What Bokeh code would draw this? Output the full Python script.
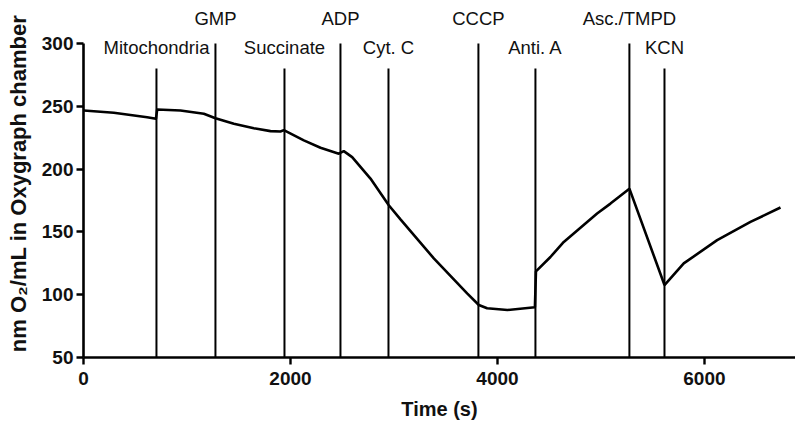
from bokeh.plotting import figure
from bokeh.models import Range1d, FixedTicker
from bokeh.core.properties import value
from bokeh.embed import file_html
from bokeh.resources import INLINE

# Oxygen trace (time in s, nm O2/mL)
time_s = [3, 293, 615, 700, 712, 937, 1163, 1275, 1453, 1646, 1807, 1903, 1936,
          2129, 2290, 2467, 2515, 2596, 2773, 2950, 3063, 3385, 3707, 3820, 3900,
          4096, 4362, 4372, 4512, 4641, 4963, 5092, 5275, 5614, 5800, 6123, 6445, 6735]
oxygen = [246.6, 244.8, 241.3, 240.0, 247.4, 246.6, 244.0, 240.5, 236.0, 232.5, 230.2, 229.9, 231.0,
          222.8, 217.0, 212.2, 214.3, 209.5, 192.4, 171.2, 160.0, 128.9, 101.1, 91.8, 89.2,
          87.8, 90.0, 118.5, 130.0, 142.0, 164.6, 172.5, 184.4, 107.7, 124.9, 143.4, 157.9, 169.4]

# Additions (time of injection, label, line top, label level)
add_names = ["Mitochondria", "GMP", "Succinate", "ADP", "Cyt. C", "CCCP", "Anti. A", "Asc./TMPD", "KCN"]
add_times = [705, 1275, 1942, 2483, 2947, 3816, 4367, 5275, 5614]
line_tops = [280, 300, 280, 300, 280, 300, 280, 300, 280]
label_levels = [297, 320, 297, 320, 297, 320, 297, 320, 297]

x_ticks = [0, 2000, 4000, 6000]
y_ticks = [50, 100, 150, 200, 250, 300]

FONT = "Liberation Sans"

p = figure(width=795, height=429, output_backend="svg", toolbar_location=None,
           x_range=Range1d(0, 6880), y_range=Range1d(50, 327),
           min_border_left=83, min_border_right=0, min_border_top=9, min_border_bottom=72,
           background_fill_color="white", border_fill_color="white")
p.outline_line_color = None
p.grid.visible = False

p.segment(x0=add_times, y0=[50] * len(add_times), x1=add_times, y1=line_tops,
          line_color="black", line_width=2)
p.line(time_s, oxygen, line_color="black", line_width=2.6)

p.text(x=add_times, y=label_levels, text=add_names, text_align="center",
       text_baseline="middle", text_font=value(FONT), text_font_size="18.5px",
       text_color="#111111")

for ax in (p.xaxis[0], p.yaxis[0]):
    ax.axis_line_width = 2.6
    ax.axis_line_color = "black"
    ax.major_tick_line_width = 2.4
    ax.major_tick_line_color = "black"
    ax.major_tick_in = 0
    ax.major_tick_out = 7
    ax.minor_tick_line_color = None
    ax.major_label_text_font = FONT
    ax.major_label_text_font_style = "bold"
    ax.major_label_text_font_size = "19px"
    ax.major_label_text_color = "#111111"
    ax.axis_label_text_font = FONT
    ax.axis_label_text_font_style = "bold"
    ax.axis_label_text_color = "#111111"

p.yaxis.bounds = (50, 300)
p.xaxis.ticker = FixedTicker(ticks=x_ticks)
p.yaxis.ticker = FixedTicker(ticks=y_ticks)
p.xaxis.axis_label = "Time (s)"
p.xaxis.axis_label_text_font_size = "20px"
p.xaxis.major_label_standoff = 7
p.xaxis.axis_label_standoff = 10
p.yaxis.axis_label = "nm O₂/mL in Oxygraph chamber"
p.yaxis.axis_label_text_font_size = "22px"
p.yaxis.major_label_standoff = 3
p.yaxis.axis_label_standoff = 8

open("out.html", "w").write(file_html(p, INLINE))
